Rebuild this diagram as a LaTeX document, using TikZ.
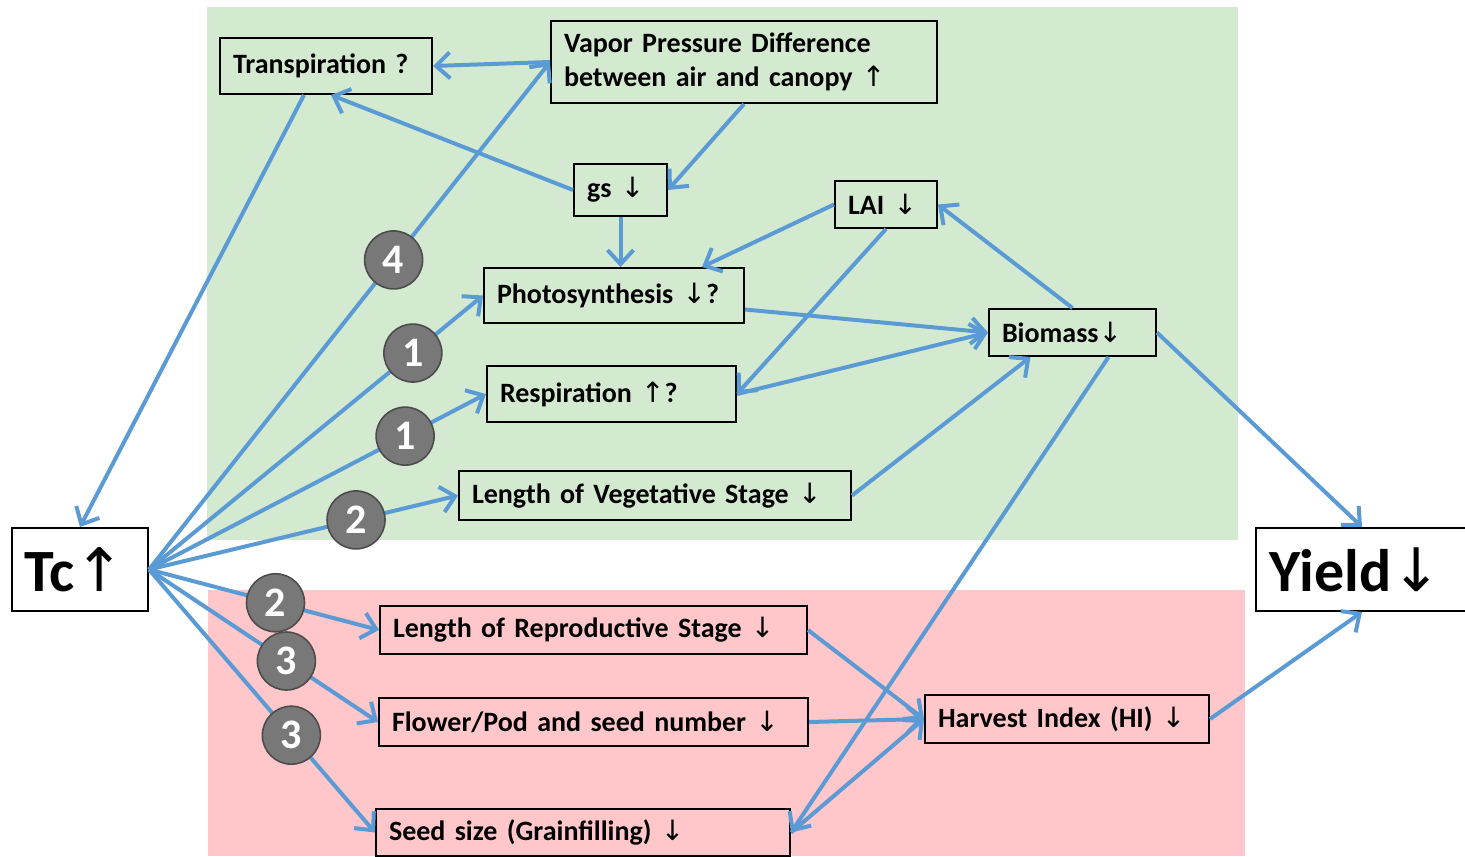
\documentclass[tikz,border=0pt]{standalone}
\usepackage{fontspec}
\setmainfont{Carlito}
\newfontfamily\arrfont{DejaVu Sans}
\usetikzlibrary{arrows.meta,calc}
\definecolor{bgGreen}{RGB}{212,234,208}
\definecolor{bgPink}{RGB}{255,199,201}
\definecolor{arrBlue}{RGB}{91,155,213}
\definecolor{badgeGray}{RGB}{120,120,120}
\newcommand{\UpA}{{\arrfont\mdseries\char"2191}}
\newcommand{\DnA}{{\arrfont\mdseries\char"2193}}
\begin{document}
\begin{tikzpicture}[x=0.5pt,y=-0.5pt,
  box/.style={draw=black, line width=1pt, inner xsep=6.5pt, inner ysep=0pt, align=left, anchor=north west, font=\bfseries\fontsize{14}{17}\selectfont},
  bigbox/.style={box, font=\bfseries\fontsize{30}{30}\selectfont},
  conn/.style={draw=arrBlue, line width=2pt, -{Straight Barb[length=7pt,width=13pt,line width=2pt]}},
  badge/.style={circle, fill=badgeGray, draw=black!70, line width=0.8pt, minimum size=29pt, inner sep=0pt, text=white, font=\bfseries\fontsize{21}{21}\selectfont}]
\useasboundingbox (0,0) rectangle (1465,856);
% backgrounds
\fill[bgGreen] (207,7) rectangle (1238,540);
\fill[bgPink] (208,590) rectangle (1245,856);
% boxes
\node[box, text width=93pt, minimum height=28pt] (trans) at (219,37) {Transpiration ?};
\node[box, text width=180pt, minimum height=41pt] (vpd) at (550,20) {Vapor Pressure Difference\\between air and canopy \UpA};
\node[box, text width=33.5pt, minimum height=26pt] (gs) at (573,163) {gs \DnA};
\node[box, text width=38pt, minimum height=23.5pt] (lai) at (834,180) {LAI \DnA};
\node[box, text width=117pt, minimum height=27.5pt] (photo) at (483,267) {Photosynthesis \DnA?};
\node[box, text width=70.5pt, minimum height=23.5pt] (bio) at (988,308) {Biomass\DnA};
\node[box, text width=111.5pt, minimum height=28pt] (resp) at (486,365) {Respiration \UpA?};
\node[box, text width=183pt, minimum height=24.5pt] (veg) at (458,470) {Length of Vegetative Stage \DnA};
\node[bigbox, text width=55pt, minimum height=41.5pt] (tc) at (11,527) {Tc\UpA};
\node[bigbox, text width=93pt, minimum height=41.5pt] (yield) at (1255,527) {Yield\DnA};
\node[box, text width=200.5pt, minimum height=24pt] (repro) at (379,605) {Length of Reproductive Stage \DnA};
\node[box, text width=201.5pt, minimum height=24pt] (flower) at (378,697) {Flower/Pod and seed number \DnA};
\node[box, text width=194pt, minimum height=23.5pt] (seed) at (375,808) {Seed size (Grainfilling) \DnA};
\node[box, text width=129pt, minimum height=24pt] (hi) at (924,694) {Harvest Index (HI) \DnA};
% connectors
\draw[conn] (vpd.west) -- (trans.east);
\draw[conn] ([xshift=-11pt]trans.south) -- (tc.north);
\draw[conn] (gs.west) -- ([xshift=2.5pt]trans.south);
\draw[conn] (vpd.south) -- (gs.east);
\draw[conn] (gs.south) -- (gs.south |- photo.north);
\draw[conn] (lai.west) -- ([xshift=44pt]photo.north);
\draw[conn] (lai.south) -- (resp.east);
\draw[conn] ([yshift=-7pt]photo.east) -- (bio.west);
\draw[conn] (resp.east) -- (bio.west);
\draw[conn] (veg.east) -- ([xshift=-21pt]bio.south);
\draw[conn] (bio.north) -- (lai.east);
\draw[conn] (bio.east) -- (yield.north);
\draw[conn] ([xshift=18pt]bio.south) -- (seed.east);
\draw[conn] (repro.east) -- (hi.west);
\draw[conn] (flower.east) -- (hi.west);
\draw[conn] (seed.east) -- (hi.west);
\draw[conn] (hi.east) -- (yield.south);
\draw[conn] (tc.east) -- (vpd.west);
\draw[conn] (tc.east) -- (photo.west);
\draw[conn] (tc.east) -- (resp.west);
\draw[conn] (tc.east) -- (veg.west);
\draw[conn] (tc.east) -- (repro.west);
\draw[conn] (tc.east) -- (flower.west);
\draw[conn] (tc.east) -- (seed.west);
% badges
\node[badge] (b4) at ($(tc.east)!0.61!(vpd.west)$) {4};
\node[badge] (b1a) at ($(tc.east)!0.79!(photo.west)$) {1};
\node[badge] (b1b) at ($(tc.east)!0.76!(resp.west)$) {1};
\node[badge] (b2a) at ($(tc.east)!0.67!(veg.west)$) {2};
\node[badge] (b2b) at ($(tc.east)!0.55!(repro.west)$) {2};
\node[badge] (b3a) at ($(tc.east)!0.60!(flower.west)$) {3};
\node[badge] (b3b) at ($(tc.east)!0.63!(seed.west)$) {3};
\end{tikzpicture}
\end{document}
